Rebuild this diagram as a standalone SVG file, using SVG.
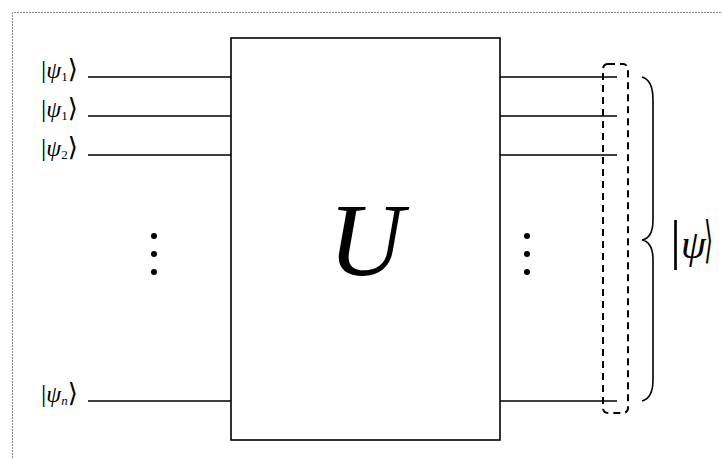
<svg xmlns="http://www.w3.org/2000/svg" width="722" height="459" viewBox="0 0 722 459">
<style>
.w{stroke:#000;stroke-width:1.6;fill:none}
.k{font-family:"Liberation Serif","DejaVu Serif",serif;fill:#000}
.i{font-style:italic}
.b{font-family:"DejaVu Serif",serif}
.d{fill:#000}
</style>
<rect width="722" height="459" fill="#fff"/>
<path d="M12.5,470 V12.5 H730" fill="none" stroke="#888" stroke-width="1" stroke-dasharray="2,1"/>
<g id="U">
<rect x="231" y="38" width="269" height="402" class="w"/>
<text x="366" y="275" class="k i" font-size="104" text-anchor="middle">U</text>
</g>
<g id="in1"><text x="41" y="78" class="k" font-size="26">|<tspan class="i" font-size="24">ψ</tspan><tspan font-size="13" dy="3">1</tspan><tspan class="b" dy="-3">⟩</tspan></text></g>
<g id="in2"><text x="41" y="117" class="k" font-size="26">|<tspan class="i" font-size="24">ψ</tspan><tspan font-size="13" dy="3">1</tspan><tspan class="b" dy="-3">⟩</tspan></text></g>
<g id="in3"><text x="41" y="156" class="k" font-size="26">|<tspan class="i" font-size="24">ψ</tspan><tspan font-size="13" dy="3">2</tspan><tspan class="b" dy="-3">⟩</tspan></text></g>
<g id="inn"><text x="41" y="402" class="k" font-size="26">|<tspan class="i" font-size="24">ψ</tspan><tspan font-size="13" dy="3" class="i">n</tspan><tspan class="b" dy="-3">⟩</tspan></text></g>
<g id="dotsL"><circle cx="154" cy="236" r="3" class="d"/><circle cx="154" cy="254" r="3" class="d"/><circle cx="154" cy="272" r="3" class="d"/></g>
<g id="dotsR"><circle cx="527" cy="236" r="3" class="d"/><circle cx="527" cy="254" r="3" class="d"/><circle cx="527" cy="272" r="3" class="d"/></g>
<g id="connectors" class="w">
<path d="M88,77 H231 M88,116 H231 M88,155 H231 M88,401 H231"/>
<path d="M500,77 H617 M500,116 H617 M500,155 H617 M500,401 H617"/>
</g>
<g id="group">
<rect x="603" y="64" width="25" height="349" rx="5" fill="none" stroke="#000" stroke-width="2" stroke-dasharray="7,5"/>
</g>
<g id="brace">
<path d="M642,77 Q653,80 653,100 V220 Q653,238 642,240 Q653,242 653,260 V380 Q653,398 642,401" class="w"/>
</g>
<g id="out"><text x="670" y="258" class="k" font-size="55">|<tspan class="i" font-size="40">ψ</tspan></text><text x="704" y="257" class="k b" font-size="50" textLength="9" lengthAdjust="spacingAndGlyphs">⟩</text></g>
</svg>
